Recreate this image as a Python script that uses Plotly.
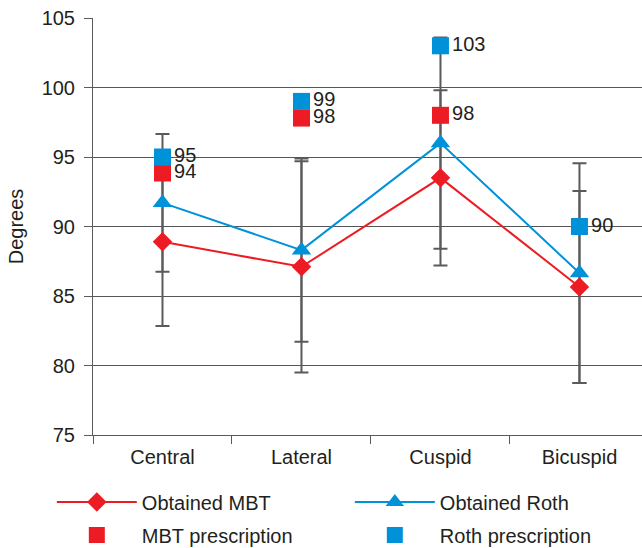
import plotly.graph_objects as go

categories = ["Central", "Lateral", "Cuspid", "Bicuspid"]
obtained_mbt = [88.9, 87.1, 93.5, 85.65]
obtained_mbt_sd = [6.05, 7.6, 6.3, 6.9]
obtained_roth = [91.7, 88.3, 96.0, 86.65]
obtained_roth_sd = [4.95, 6.6, 7.6, 7.9]
mbt_prescription = [93.85, 97.8, 98.0, None]
mbt_prescription_labels = ["94", "98", "98", ""]
roth_prescription = [95.0, 99.0, 103.0, 90.0]
roth_prescription_labels = ["95", "99", "103", "90"]
y_ticks = [75, 80, 85, 90, 95, 100, 105]

RED = "#ED1C24"
BLUE = "#0092D8"
GRAY = "#5a5a5a"
TXT = "#231f20"
FONT = "Liberation Sans, Arial, sans-serif"
FS = 20

fig = go.Figure()

# error bars (drawn first, behind lines)
for vals, sd in [(obtained_mbt, obtained_mbt_sd), (obtained_roth, obtained_roth_sd)]:
    fig.add_trace(go.Scatter(
        x=categories, y=vals, mode="markers",
        marker=dict(size=1, opacity=0),
        error_y=dict(type="data", array=sd, visible=True, color=GRAY, thickness=2, width=7),
        showlegend=False, hoverinfo="skip"))

fig.add_trace(go.Scatter(
    x=categories, y=obtained_mbt, mode="lines+markers", name="Obtained MBT",
    line=dict(color=RED, width=2),
    marker=dict(symbol="diamond", size=15, color=RED),
    legend="legend"))
fig.add_trace(go.Scatter(
    x=categories, y=obtained_roth, mode="lines+markers", name="Obtained Roth",
    line=dict(color=BLUE, width=2),
    marker=dict(symbol="triangle-up", size=17, color=BLUE),
    legend="legend"))
fig.add_trace(go.Scatter(
    x=categories, y=mbt_prescription, mode="markers+text", name="MBT prescription",
    marker=dict(symbol="square", size=17, color=RED),
    text=mbt_prescription_labels, textposition="middle right",
    textfont=dict(size=FS, color=TXT, family=FONT),
    legend="legend2"))
fig.add_trace(go.Scatter(
    x=categories, y=roth_prescription, mode="markers+text", name="Roth prescription",
    marker=dict(symbol="square", size=17, color=BLUE),
    text=roth_prescription_labels, textposition="middle right",
    textfont=dict(size=FS, color=TXT, family=FONT),
    legend="legend2"))

legend_common = dict(
    orientation="h", xanchor="left", yanchor="middle",
    font=dict(size=FS, color=TXT, family=FONT),
    itemwidth=80, entrywidth=203, bgcolor="rgba(0,0,0,0)",
    traceorder="normal")

fig.update_layout(
    width=642, height=548,
    margin=dict(l=93, r=0, t=18, b=113, autoexpand=False),
    paper_bgcolor="white", plot_bgcolor="white",
    font=dict(family=FONT, size=FS, color=TXT),
    showlegend=True,
    legend=dict(x=-0.075, y=-0.1607, **legend_common),
    legend2=dict(x=-0.075, y=-0.2398, **legend_common),
    xaxis=dict(
        type="category", categoryorder="array", categoryarray=categories,
        range=[-0.5, 3.45], tickson="boundaries", ticks="outside", ticklen=8,
        tickcolor=GRAY, tickwidth=1, showgrid=False, showline=True,
        linecolor=GRAY, linewidth=1, tickfont=dict(size=FS), zeroline=False,
        ticklabelstandoff=4),
    yaxis=dict(
        range=[75, 105], tickvals=y_ticks, ticks="outside", ticklen=8,
        tickcolor=GRAY, tickwidth=1, showgrid=True, gridcolor="#555555", gridwidth=1,
        showline=True, linecolor=GRAY, linewidth=1, tickfont=dict(size=FS),
        ticklabelstandoff=5,
        title=dict(text="Degrees", font=dict(size=FS), standoff=12), zeroline=False),
)

fig.write_html("out.html", config={"displayModeBar": False},
               post_script="document.body.style.margin='0px';document.body.style.overflow='hidden';")
